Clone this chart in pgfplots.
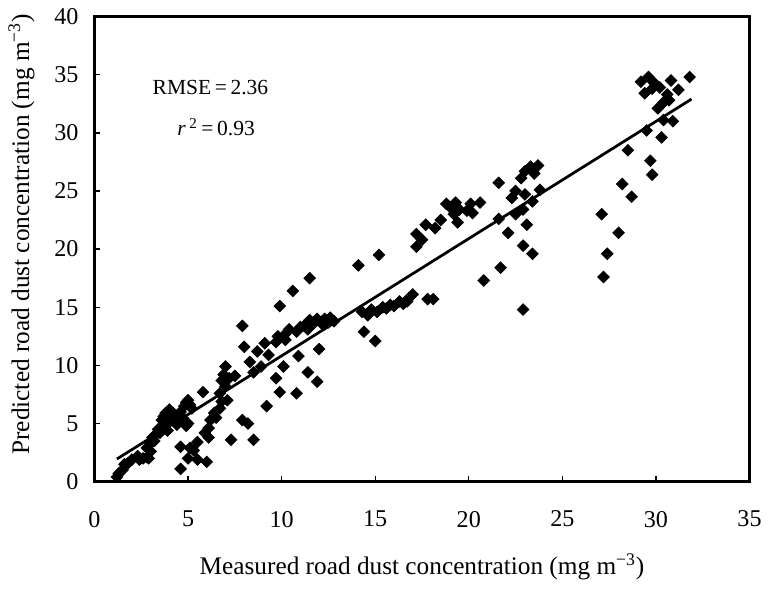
\documentclass[border=0pt]{standalone}
\usepackage{fontspec}
\setmainfont{Liberation Serif}
\usepackage{pgfplots}
\pgfplotsset{compat=1.18}
\begin{document}
\fontsize{14.7}{17}\selectfont
\begin{tikzpicture}
\begin{axis}[
  scale only axis,
  width=13.38cm, height=9.5cm,
  xmin=0, xmax=35, ymin=0, ymax=40,
  xtick={0,5,...,35}, ytick={0,5,...,40},
  tick pos=left, tick align=inside,
  major tick length=0.12cm,
  tick style={black, line width=0.8pt},
  axis line style={line width=1.6pt},
  /pgf/number format/assume math mode=true,
  ticklabel style={font=\fontsize{14}{16}\selectfont},
  xticklabel style={yshift=-0.42cm},
  yticklabel style={xshift=-0.15cm},
  xlabel={Measured road dust concentration (mg m\textsuperscript{−3})},
  ylabel={Predicted road dust concentration (mg m\textsuperscript{−3})},
  xlabel style={yshift=-0.2cm},
  ylabel style={yshift=0.05cm, xshift=0.3cm},
]
\addplot[only marks, mark=square*, mark size=2.4pt, mark options={rotate=45, fill=black, draw=black}] table {
x y
1.2 0.4
1.3 0.7
1.5 1.0
1.6 1.5
1.8 1.6
2.0 1.9
2.3 2.2
2.4 1.9
2.6 2.0
2.8 2.1
2.9 2.0
2.8 2.9
3.0 2.6
3.0 3.3
3.1 3.8
3.2 3.5
3.3 4.1
3.4 4.5
3.5 4.2
3.6 5.3
3.7 4.8
3.7 5.6
3.8 5.9
3.9 4.4
4.0 5.2
4.0 6.2
4.1 5.6
4.2 5.9
4.3 5.3
4.4 4.9
4.5 5.8
4.6 6.0
4.7 5.5
4.8 6.5
4.9 6.8
5.0 7.0
5.1 6.6
5.2 6.3
5.0 5.0
4.6 1.1
4.6 3.0
4.9 4.8
5.0 2.0
5.1 2.9
5.3 2.7
5.5 3.4
5.5 1.9
5.8 7.7
5.9 4.2
6.0 1.7
6.1 3.8
6.1 4.6
6.2 5.3
6.4 5.9
6.5 5.5
6.7 6.3
6.8 6.9
6.7 7.6
6.8 8.7
6.9 9.2
7.0 9.9
7.0 8.2
7.1 7.0
7.3 3.6
7.2 8.9
7.5 9.1
7.9 13.4
7.9 5.3
8.0 11.6
8.2 5.0
8.3 10.3
8.5 9.4
8.5 3.6
8.7 11.2
8.9 9.9
9.1 11.9
9.2 6.5
9.3 10.9
9.7 8.9
9.7 12.0
9.8 12.5
9.9 15.1
9.9 7.7
10.1 9.9
10.2 12.2
10.2 12.7
10.4 13.1
10.6 16.4
10.8 12.9
10.8 7.6
10.9 10.8
11.0 13.3
11.2 13.4
11.4 9.4
11.4 13.1
11.5 13.9
11.5 17.5
11.7 13.6
11.9 14.0
11.9 8.6
12.0 11.4
12.2 13.5
12.3 14.0
12.5 13.7
12.6 14.1
12.8 13.8
14.1 18.6
14.3 14.6
14.4 12.9
14.6 14.3
14.8 14.8
15.0 12.1
15.1 14.6
15.2 19.5
15.4 15.0
15.6 14.9
15.8 15.2
16.0 15.1
16.3 15.5
16.5 15.3
16.7 15.5
16.8 15.8
17.0 16.1
17.8 15.7
18.1 15.7
17.2 20.2
17.5 20.8
17.2 21.3
17.7 22.1
18.2 21.8
18.5 22.5
18.8 23.9
19.0 23.6
19.3 24.0
19.5 23.4
19.2 23.0
19.4 22.3
19.9 23.3
20.1 23.9
20.2 23.1
20.6 24.0
20.8 17.3
21.6 25.7
21.6 22.6
21.7 18.4
22.1 21.4
22.3 24.4
22.5 25.0
22.5 23.0
22.8 26.1
22.9 23.4
22.9 20.3
22.9 14.8
23.0 26.7
23.0 24.7
23.1 22.1
23.3 27.1
23.4 24.1
23.4 19.6
23.5 26.5
23.7 27.2
23.8 25.1
27.1 23.0
27.2 17.6
27.4 19.6
28.0 21.4
28.2 25.6
28.5 28.5
28.7 24.5
29.2 34.4
29.4 33.4
29.5 30.2
29.6 34.8
29.7 27.6
29.8 26.4
29.8 33.8
29.9 34.3
30.1 32.1
30.2 33.9
30.3 29.6
30.4 31.1
30.4 32.6
30.6 33.3
30.7 32.8
30.8 34.5
30.9 31.0
31.2 33.7
31.8 34.8
};
\addplot[black, line width=1.6pt] coordinates {(1.2,1.95) (31.9,32.9)};
\node[font=\fontsize{12.5}{15}\selectfont] at (axis cs:6.2,33.9) {RMSE\,=\,2.36};
\node[font=\fontsize{12.5}{15}\selectfont] at (axis cs:6.5,30.5) {\textit{r}\,\textsuperscript{2}\,=\,0.93};
\end{axis}
\end{tikzpicture}
\end{document}
